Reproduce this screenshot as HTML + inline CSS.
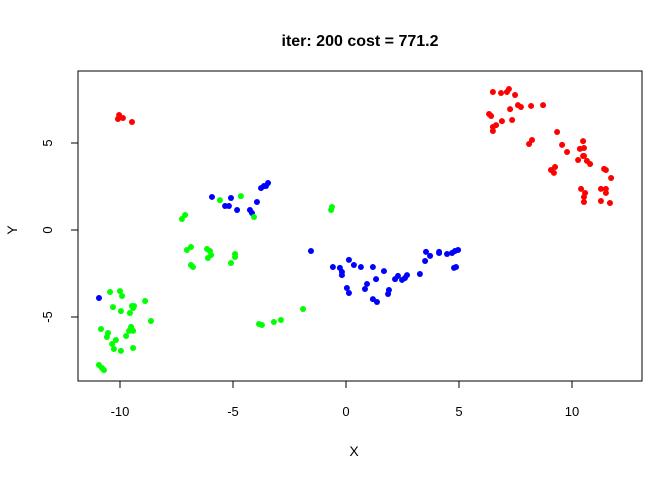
<!DOCTYPE html>
<html><head><meta charset="utf-8"><style>
body{margin:0;background:#fff;}
svg{display:block;font-family:"Liberation Sans",Arial,sans-serif;}
</style></head><body>
<svg id="chart" width="672" height="480" viewBox="0 0 672 480">
<text x="360" y="46" text-anchor="middle" font-size="16" font-weight="bold">iter: 200 cost = 771.2</text>
<rect x="78" y="71" width="564" height="310" fill="none" stroke="#000" stroke-width="1"/>
<g id="axes"></g>
<g id="pts"></g>
<text x="354" y="456" text-anchor="middle" font-size="14">X</text>
<text transform="translate(17,230) rotate(-90)" text-anchor="middle" font-size="14">Y</text>
</svg>
<script>
const xTicks=[-10,-5,0,5,10];
const yTicks=[-5,0,5];
const redX=[6.50,6.86,7.12,7.21,7.48,7.61,7.74,8.19,8.72,7.26,6.33,6.42,6.90,7.35,6.64,6.50,6.50,9.34,8.23,8.10,9.56,9.78,10.49,10.35,10.53,10.49,10.53,10.27,10.66,10.80,9.25,9.07,9.20,11.42,11.50,11.73,10.40,10.58,10.53,10.53,11.28,11.50,11.50,11.28,11.68,-10.04,-9.87,-10.09,-9.47];
const redY=[7.93,7.87,7.93,8.10,7.76,7.18,7.07,7.13,7.18,6.95,6.67,6.55,6.26,6.32,6.03,5.92,5.69,5.63,5.17,4.94,4.89,4.48,5.11,4.66,4.71,4.25,4.25,4.02,3.97,3.79,3.62,3.45,3.28,3.51,3.45,2.99,2.36,2.13,1.90,1.61,2.36,2.36,2.13,1.67,1.55,6.61,6.44,6.38,6.21];
const blueX=[-5.93,-5.09,-5.35,-5.18,-4.82,-4.25,-4.16,-3.94,-3.76,-3.63,-3.54,-3.45,-1.55,-10.93,-0.58,-0.27,-0.18,-0.18,0.13,0.35,0.66,1.19,1.68,1.33,0.93,0.84,0.04,0.13,1.19,1.37,1.86,1.90,2.17,2.30,2.48,2.61,2.70,3.27,3.50,3.54,3.72,4.12,4.12,4.47,4.69,4.82,4.96,4.78,4.87];
const blueY=[1.90,1.84,1.38,1.38,1.15,1.15,0.98,1.61,2.41,2.53,2.53,2.70,-1.21,-3.91,-2.13,-2.18,-2.41,-2.59,-1.72,-2.01,-2.13,-2.13,-2.36,-2.82,-3.10,-3.39,-3.33,-3.62,-3.97,-4.14,-3.68,-3.45,-2.82,-2.64,-2.87,-2.76,-2.59,-2.53,-1.78,-1.26,-1.49,-1.26,-1.32,-1.38,-1.32,-1.21,-1.15,-2.18,-2.13];
const greenX=[-5.58,-4.65,-4.07,-7.26,-7.12,-0.66,-0.62,-7.04,-6.86,-6.15,-6.02,-5.97,-6.11,-4.91,-4.91,-5.09,-6.86,-6.77,-10.44,-10.00,-9.91,-10.31,-9.96,-9.56,-9.47,-9.38,-9.42,-8.89,-8.63,-10.84,-10.53,-10.58,-10.18,-10.35,-10.27,-9.96,-9.73,-9.60,-9.51,-9.42,-9.42,-10.93,-10.80,-10.71,-3.85,-3.72,-3.19,-2.88,-1.90];
const greenY=[1.72,1.95,0.75,0.63,0.86,1.15,1.32,-1.15,-0.98,-1.09,-1.21,-1.44,-1.61,-1.38,-1.55,-1.90,-2.01,-2.13,-3.56,-3.51,-3.79,-4.43,-4.66,-4.77,-4.37,-4.37,-4.48,-4.08,-5.23,-5.69,-5.92,-6.15,-6.32,-6.55,-6.84,-6.95,-6.09,-5.80,-5.57,-5.80,-6.78,-7.76,-7.93,-8.05,-5.40,-5.46,-5.29,-5.17,-4.54];
const sx=v=>346+v*22.6, sy=v=>230-v*17.4;
const NS='http://www.w3.org/2000/svg';
const ax=document.getElementById('axes'), pg=document.getElementById('pts');
function mk(t,a,p){const e=document.createElementNS(NS,t);for(const k in a)e.setAttribute(k,a[k]);p.appendChild(e);return e;}
const xl=mk('line',{x1:sx(-10),x2:sx(10),y1:381,y2:381,stroke:'#000'},ax);


xTicks.forEach(t=>{
 const l=mk('line',{x1:sx(t),x2:sx(t),y1:381,y2:388,stroke:'#000'},ax);
 
 
 const tx=mk('text',{x:sx(t),y:416,'text-anchor':'middle','font-size':'13'},ax);
 tx.textContent=t;
 
 
});
yTicks.forEach(t=>{
 const l=mk('line',{x1:71,x2:78,y1:sy(t),y2:sy(t),stroke:'#000'},ax);
 
 
 const tx=mk('text',{transform:`translate(52,${sy(t)}) rotate(-90)`,'text-anchor':'middle','font-size':'13'},ax);
 tx.textContent=t;
 
 
});
const yl=mk('line',{x1:78,x2:78,y1:sy(-5),y2:sy(5),stroke:'#000'},ax);


function series(xs,ys,col,name){
 xs.forEach((x,i)=>{
  const c=mk('circle',{cx:sx(x),cy:sy(ys[i]),r:3,fill:col},pg);
  
  
 });
}
series(redX,redY,'#ff0000','red');
series(blueX,blueY,'#0000ff','blue');
series(greenX,greenY,'#00ff00','green');
</script>
</body></html>
